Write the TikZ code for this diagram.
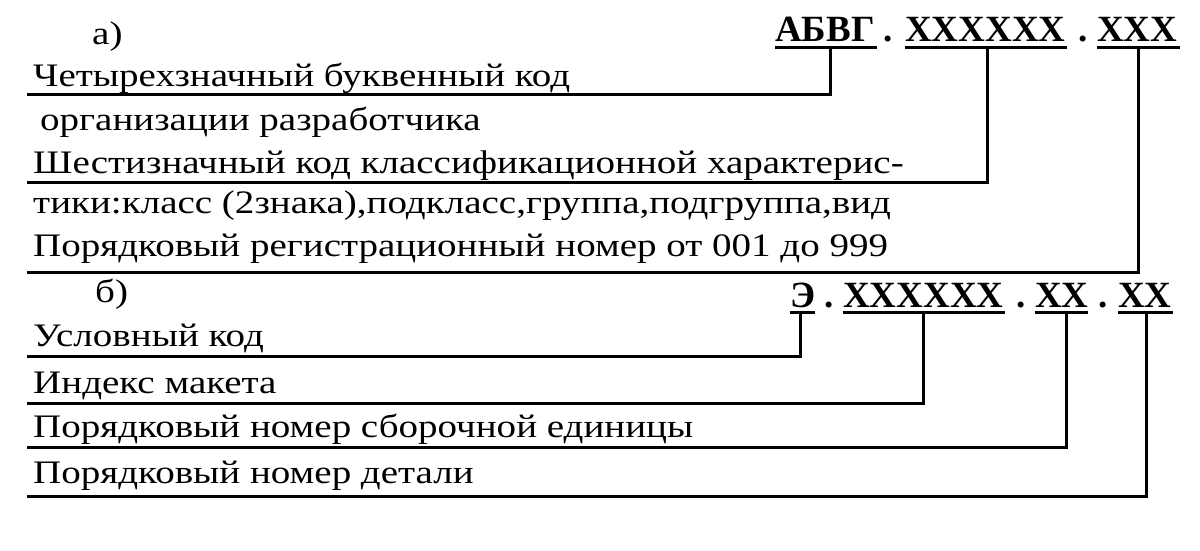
\documentclass[tikz,border=0pt]{standalone}
\usepackage{fontspec}
\setmainfont{Liberation Serif}
\newfontfamily\txtfont[FakeStretch=1.19]{Liberation Serif}
\newfontfamily\codefont{Liberation Serif}
\begin{document}
\begin{tikzpicture}[x=1pt,y=-1pt,
  txt/.style={anchor=base west,inner sep=0pt,font=\txtfont\fontsize{32.8}{38}\selectfont},
  code/.style={anchor=base west,inner sep=0pt,font=\codefont\bfseries\fontsize{37}{44}\selectfont},
  ln/.style={line width=3pt,line cap=rect},
  ul/.style={line width=3pt}]
\useasboundingbox (0,0) rectangle (1200,551);
% --- a) ---
\node[txt] (la) at (92,45) {а)};
\node[code] (a1) at (775,42) {АБВГ};
\node[code] (ad1) at (883,42) {.};
\node[code] (a2) at (905,42) {XXXXXX};
\node[code] (ad2) at (1078,42) {.};
\node[code] (a3) at (1097,42) {XXX};
\node[txt] (t1) at (33,86) {Четырехзначный буквенный код};
\node[txt] (t2) at (40,130) {организации разработчика};
\node[txt] (t3) at (33,173) {Шестизначный код классификационной характерис-};
\node[txt] (t4) at (33,213) {тики:класс (2знака),подкласс,группа,подгруппа,вид};
\node[txt] (t5) at (33,256) {Порядковый регистрационный номер от 001 до 999};
% underlines of code a
\draw[ul] (775,48) -- (877,48);
\draw[ul] (905,48) -- (1067,48);
\draw[ul] (1097,48) -- (1180,48);
\coordinate (ua1) at (830,48); \coordinate (ea1) at (28,95);
\coordinate (ua2) at (987,48); \coordinate (ea2) at (28,182);
\coordinate (ua3) at (1138,48); \coordinate (ea3) at (28,272);
\draw[ln] (ua1) |- (ea1);
\draw[ln] (ua2) |- (ea2);
\draw[ln] (ua3) |- (ea3);
% --- b) ---
\node[txt] (lb) at (95,302) {б)};
\node[code] (b1) at (790,307) {Э};
\node[code] (bd1) at (824,307) {.};
\node[code] (b2) at (843,307) {XXXXXX};
\node[code] (bd2) at (1016,307) {.};
\node[code] (b3) at (1035,307) {XX};
\node[code] (bd3) at (1098,307) {.};
\node[code] (b4) at (1118,307) {XX};
\node[txt] (t6) at (33,346) {Условный код};
\node[txt] (t7) at (33,393) {Индекс макета};
\node[txt] (t8) at (33,437) {Порядковый номер сборочной единицы};
\node[txt] (t9) at (33,483) {Порядковый номер детали};
\draw[ul] (790,312) -- (815,312);
\draw[ul] (843,312) -- (1005,312);
\draw[ul] (1035,312) -- (1088,312);
\draw[ul] (1118,312) -- (1173,312);
\coordinate (ub1) at (800,312); \coordinate (eb1) at (28,356);
\coordinate (ub2) at (923,312); \coordinate (eb2) at (28,403);
\coordinate (ub3) at (1066,312); \coordinate (eb3) at (28,447);
\coordinate (ub4) at (1146,312); \coordinate (eb4) at (28,496);
\draw[ln] (ub1) |- (eb1);
\draw[ln] (ub2) |- (eb2);
\draw[ln] (ub3) |- (eb3);
\draw[ln] (ub4) |- (eb4);
\end{tikzpicture}
\end{document}
